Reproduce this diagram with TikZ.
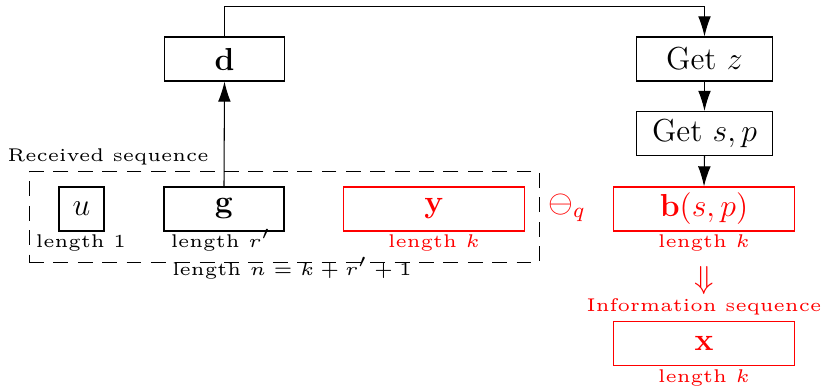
\documentclass[tikz,border=0pt]{standalone}
\definecolor{seqred}{HTML}{FF0000}
\usepackage{amsmath,amssymb}
\usepackage{graphicx}
\usepackage{tikz}
\usetikzlibrary{positioning,arrows.meta}
\newcommand{\tinylbl}[1]{\scalebox{1.39}{\tiny #1}}

\begin{document}
\begin{tikzpicture}[
  x=0.3774pt, y=-0.3774pt,
  box/.style={rectangle, draw, inner sep=0pt, minimum height=16.6pt, align=center, font=\large},
  rbox/.style={box, draw=seqred, text=seqred},
  lenlbl/.style={inner sep=0pt, anchor=base},
  arr/.style={-{Latex[length=7.6pt,width=4.8pt]}}
]
  \useasboundingbox (0,0) rectangle (825,386);

  % left side: received sequence
  \node[rectangle, draw, dashed, dash pattern=on 5.6pt off 3.6pt,
        minimum width=192.8pt, minimum height=34pt] (recv) at (284.5,217) {};
  \node[lenlbl, anchor=base west] (recvlbl) at (7,162) {\tinylbl{Received sequence}};

  \node[box, minimum width=17pt] (u) at (81.5,209) {$u$};
  \node[box, minimum width=45.3pt] (g) at (224,209) {$\mathbf{g}$};
  \node[rbox, minimum width=68pt] (y) at (434,209) {$\mathbf{y}$};

  \node[lenlbl] (ulen) at (81,247) {\tinylbl{length 1}};
  \node[lenlbl] (glen) at (221,247) {\tinylbl{length $r'$}};
  \node[lenlbl, text=seqred] (ylen) at (434,247) {\tinylbl{length $k$}};
  \node[lenlbl] (nlen) at (292,275) {\tinylbl{length $n=k+r'+1$}};

  \node[text=seqred, font=\large] (minus) at (567,208) {$\ominus_q$};

  \node[box, minimum width=45pt] (d) at (224.5,59) {$\mathbf{d}$};

  % right side: decoding chain
  \node[box, minimum width=51pt] (getz) at (704.5,59) {Get $z$};
  \node[box, minimum width=51pt] (getsp) at (704.5,133.5) {Get $s,p$};
  \node[rbox, minimum width=68pt] (b) at (704,209) {$\mathbf{b}(s,p)$};
  \node[lenlbl, text=seqred] (blen) at (704,247) {\tinylbl{length $k$}};

  \node[text=seqred, font=\large] (imp) at (704,281) {$\Downarrow$};
  \node[lenlbl, text=seqred] (infolbl) at (704,311) {\tinylbl{Information sequence}};

  \node[rbox, minimum width=68pt] (x) at (704,343.5) {$\mathbf{x}$};
  \node[lenlbl, text=seqred] (xlen) at (704,382) {\tinylbl{length $k$}};

  \draw[arr] (g.north) -- (d.south);
  \draw[arr] (d.north) -- ++(0,-30) -| (getz.north);
  \draw[arr] (getz.south) -- (getsp.north);
  \draw[arr] (getsp.south) -- (b.north);
\end{tikzpicture}
\end{document}
